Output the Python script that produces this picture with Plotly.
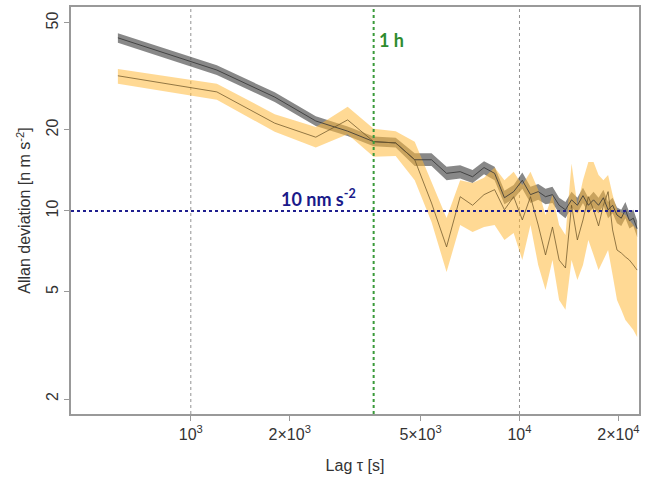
import math
import plotly.graph_objects as go

# Lag tau [s]
tau = [600, 1200, 1800, 2400, 3000, 3600, 4200, 4800, 5400, 6000,
       6600, 7200, 7800, 8400, 9000, 9600, 10200, 10800, 11400, 12000,
       12600, 13200, 13800, 14400, 15000, 15600, 16200, 16800, 17400, 18000,
       18600, 19200, 19800, 20400, 21000, 21600, 22200, 22800]

# gray series (Allan deviation, nm s^-2)
gray_mid = [44.0, 33.4, 26.5, 21.6, 19.8, 18.1, 17.9, 15.5, 15.5, 13.8,
            14.0, 13.4, 14.5, 13.8, 11.2, 11.8, 13.0, 11.5, 11.8, 11.3,
            11.5, 10.5, 10.1, 11.0, 10.5, 11.4, 10.5, 11.0, 10.5, 11.2,
            10.1, 10.5, 9.66, 9.4, 10.1, 9.2, 9.4, 8.6]
gray_hi = [45.8, 34.8, 27.6, 22.5, 20.6, 18.9, 18.7, 16.4, 16.4, 14.6,
           14.8, 14.2, 15.3, 14.6, 11.9, 12.5, 13.9, 12.3, 12.6, 12.1,
           12.3, 11.2, 10.8, 11.8, 11.2, 12.2, 11.2, 11.8, 11.2, 12.0,
           10.8, 11.2, 10.3, 10.1, 10.8, 9.84, 10.1, 9.2]
gray_lo = [42.2, 32.0, 25.4, 20.7, 19.0, 17.4, 17.2, 14.7, 14.7, 13.0,
           13.2, 12.7, 13.7, 13.0, 10.6, 11.1, 12.1, 10.7, 11.0, 10.6,
           10.7, 9.8, 9.4, 10.3, 9.8, 10.7, 9.8, 10.3, 9.8, 10.5,
           9.4, 9.8, 9.0, 8.8, 9.4, 8.6, 8.8, 8.0]

# orange series
orange_mid = [31.8, 27.7, 21.2, 18.8, 21.8, 18.1, 17.9, 15.5, 10.7, 7.35,
              11.3, 10.5, 11.5, 12.0, 10.1, 11.3, 9.26, 11.3, 8.87, 6.86,
              8.72, 6.57, 6.14, 10.5, 7.8, 9.26, 11.3, 10.1, 8.8, 10.5,
              11.8, 8.5, 7.16, 6.98, 6.75, 6.57, 6.3, 6.03]
orange_hi = [33.7, 29.7, 22.9, 20.5, 24.4, 20.2, 19.8, 18.1, 12.8, 9.42,
             13.0, 12.7, 13.3, 14.5, 13.0, 14.0, 12.5, 14.0, 12.0, 9.66,
             11.5, 8.87, 8.14, 15.0, 10.5, 13.0, 15.2, 15.2, 13.6, 13.0,
             13.6, 11.5, 10.1, 9.91, 9.66, 9.26, 8.87, 8.5]
orange_lo = [29.7, 25.9, 19.7, 17.2, 19.3, 15.9, 16.0, 13.0, 9.10, 5.93,
             8.87, 8.35, 8.72, 8.87, 7.80, 8.29, 6.57, 8.87, 6.30, 5.08,
             6.57, 4.67, 4.29, 6.57, 5.54, 6.30, 7.80, 6.86, 6.03, 6.57,
             7.16, 5.78, 4.67, 4.29, 3.93, 3.77, 3.61, 3.40]

x_ticks = [1000, 2000, 5000, 10000, 20000]
x_ticktext = ["10<sup>3</sup>", "2×10<sup>3</sup>", "5×10<sup>3</sup>", "10<sup>4</sup>", "2×10<sup>4</sup>"]
y_ticks = [2, 5, 10, 20, 50]
y_ticktext = ["2", "5", "10", "20", "50"]
decade_grid = [1000, 10000]
one_hour = 3600
ref_level = 10

fig = go.Figure()
fig.add_trace(go.Scatter(x=tau + tau[::-1], y=gray_hi + gray_lo[::-1], fill="toself",
                         fillcolor="rgba(90,90,90,0.72)", line=dict(width=0),
                         hoverinfo="skip", mode="lines"))
fig.add_trace(go.Scatter(x=tau + tau[::-1], y=orange_hi + orange_lo[::-1], fill="toself",
                         fillcolor="rgba(255,185,60,0.55)", line=dict(width=0),
                         hoverinfo="skip", mode="lines"))
fig.add_trace(go.Scatter(x=tau, y=gray_mid, mode="lines",
                         line=dict(color="rgba(50,50,50,0.8)", width=1)))
fig.add_trace(go.Scatter(x=tau, y=orange_mid, mode="lines",
                         line=dict(color="rgba(110,85,40,0.75)", width=1)))

shapes = []
for g in decade_grid:
    shapes.append(dict(type="line", xref="x", yref="paper", x0=g, x1=g, y0=0, y1=1,
                       line=dict(color="rgba(120,120,120,0.8)", width=1, dash="dot"), layer="below"))
shapes.append(dict(type="line", xref="paper", yref="y", x0=0, x1=1, y0=ref_level, y1=ref_level,
                   line=dict(color="#1f1f8f", width=2, dash="dot")))
shapes.append(dict(type="line", xref="x", yref="paper", x0=one_hour, x1=one_hour, y0=0, y1=1,
                   line=dict(color="#3a9a3a", width=2, dash="dot")))

# annotations on log axes are positioned in log10 units
annotations = [
    dict(x=math.log10(one_hour), xref="x", y=0.92, yref="paper", text="<b>1 h</b>", showarrow=False,
         xanchor="left", yanchor="middle", xshift=3,
         font=dict(family="Lato", size=18, color="#2e8b2e")),
    dict(x=0.435, xref="paper", y=math.log10(ref_level), yref="y", text="<b>10 nm s<sup>-2</sup></b>",
         showarrow=False, xanchor="center", yanchor="bottom", yshift=-1,
         font=dict(family="Lato", size=18, color="#1a1a8a")),
]

fig.update_layout(
    width=645, height=483,
    margin=dict(l=71, r=6, t=7, b=69, autoexpand=False),
    paper_bgcolor="white", plot_bgcolor="white",
    showlegend=False,
    shapes=shapes, annotations=annotations,
    font=dict(family="Liberation Sans, Arial, sans-serif", size=15, color="#333"),
)
fig.update_xaxes(type="log", range=[2.6355, 4.3636], tickvals=x_ticks, ticktext=x_ticktext,
                 automargin=False,
                 showgrid=False, zeroline=False, showline=True, linecolor="#999", linewidth=1.5,
                 mirror=True, ticks="outside", ticklen=5, tickcolor="#999",
                 tickfont=dict(size=16, color="#333"),
                 title=dict(text="Lag τ [s]", font=dict(size=16, color="#333"), standoff=18))
fig.update_yaxes(type="log", range=[0.2455, 1.758], tickvals=y_ticks, ticktext=y_ticktext,
                 tickangle=-90, automargin=False,
                 showgrid=False, zeroline=False, showline=True, linecolor="#999", linewidth=1.5,
                 mirror=True, ticks="outside", ticklen=5, tickcolor="#999",
                 tickfont=dict(size=16, color="#333"),
                 title=dict(text="Allan deviation [n m s<sup>-2</sup>]", font=dict(size=16, color="#333"), standoff=9))

fig.write_html("out.html", config={"displayModeBar": False},
               post_script="document.body.style.margin='0';")
